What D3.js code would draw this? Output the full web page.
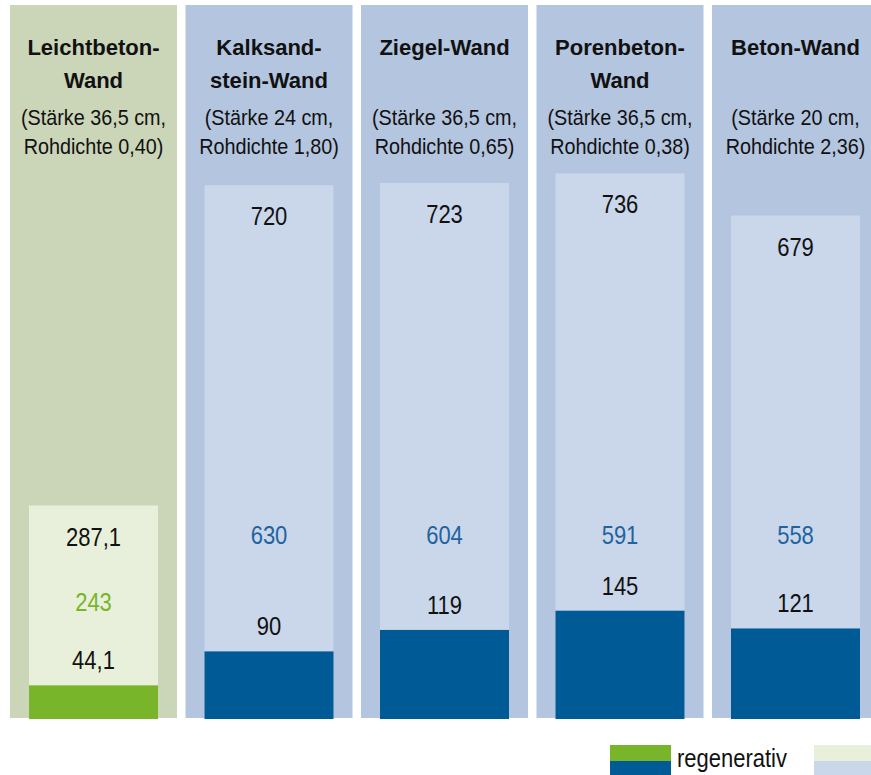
<!DOCTYPE html>
<html>
<head>
<meta charset="utf-8">
<script src="https://cdn.jsdelivr.net/npm/d3@7"></script>
<style>
  body { margin: 0; background: #fff; }
  svg { display: block; }
  text { font-family: "Liberation Sans", Arial, sans-serif; }
</style>
</head>
<body>
<svg id="chart" width="871" height="775"></svg>
<script>
// Wall types (header lines + subtitle lines)
const categories = ['Leichtbeton-Wand', 'Kalksandstein-Wand', 'Ziegel-Wand', 'Porenbeton-Wand', 'Beton-Wand'];
const headerLines = [['Leichtbeton-', 'Wand'], ['Kalksand-', 'stein-Wand'], ['Ziegel-Wand'], ['Porenbeton-', 'Wand'], ['Beton-Wand']];
const subLines = [
  ['(Stärke 36,5 cm,', 'Rohdichte 0,40)'],
  ['(Stärke 24 cm,', 'Rohdichte 1,80)'],
  ['(Stärke 36,5 cm,', 'Rohdichte 0,65)'],
  ['(Stärke 36,5 cm,', 'Rohdichte 0,38)'],
  ['(Stärke 20 cm,', 'Rohdichte 2,36)']
];

// values
const totals = [287.1, 720, 723, 736, 679];
const regenerative = [44.1, 90, 119, 145, 121];
const nonRegenerative = [243, 630, 604, 591, 558];
const legendLabel = 'regenerativ';

const colors = {
  greenPanel: '#cbd5b8', greenLight: '#e8f0db', green: '#78b52a',
  bluePanel: '#b3c5df', blueLight: '#cad6e9', blue: '#005a96', blueText: '#1f64a0'
};

const svg = d3.select('#chart');
const de = d3.formatLocale({ decimal: ',', thousands: '.', grouping: [3], currency: ['', ' €'] });
const fmt = v => Number.isInteger(v) ? de.format('d')(v) : de.format('.1f')(v);

// narrow text: regular Liberation Sans squeezed horizontally
function narrow(sel, px, py, txt, size, sx, opts = {}) {
  return sel.append('text')
    .attr('transform', `translate(${px},${py}) scale(${sx},1)`)
    .attr('text-anchor', opts.anchor || 'middle')
    .style('font-size', size + 'px')
    .style('font-weight', opts.bold ? 'bold' : null)
    .attr('fill', opts.fill || '#111')
    .text(txt);
}

const bottom = 718;
const x = d3.scaleBand().domain(categories).range([10, 879]).paddingInner(0.0484).paddingOuter(0);
const y = d3.scaleLinear().domain([0, 800]).range([bottom, 126]);
const inset = 19;

const cols = categories.map((c, i) => ({
  c, i, total: totals[i], regen: regenerative[i], rest: nonRegenerative[i],
  head: headerLines[i], sub: subLines[i], eco: i === 0
}));

const col = svg.selectAll('.col').data(cols).enter().append('g').attr('class', 'col');

// background panel
col.append('rect')
  .attr('x', d => x(d.c)).attr('y', 5)
  .attr('width', x.bandwidth()).attr('height', bottom - 5)
  .attr('fill', d => d.eco ? colors.greenPanel : colors.bluePanel);

// total bar (light)
col.append('rect')
  .attr('x', d => x(d.c) + inset).attr('y', d => y(d.total))
  .attr('width', x.bandwidth() - 2 * inset).attr('height', d => bottom - y(d.total))
  .attr('fill', d => d.eco ? colors.greenLight : colors.blueLight);

// regenerative part (dark)
col.append('rect')
  .attr('x', d => x(d.c) + inset).attr('y', d => y(d.regen))
  .attr('width', x.bandwidth() - 2 * inset).attr('height', d => bottom + 1 - y(d.regen))
  .attr('fill', d => d.eco ? colors.green : colors.blue);

const cx = d => x(d.c) + x.bandwidth() / 2;

col.each(function(d) {
  const g = d3.select(this);
  // headers
  d.head.forEach((t, k) => narrow(g, cx(d), 55 + k * 33, t, 22.5, 0.98, { bold: true }));
  d.sub.forEach((t, k) => narrow(g, cx(d), 125 + k * 29, t, 22, 0.9));

  // value labels
  narrow(g, cx(d), y(d.total) + 40, fmt(d.total), 25, 0.88);
  narrow(g, cx(d), y(d.regen) - 16, fmt(d.regen), 25, 0.88);
  const midY = d.eco ? (y(d.total) + 40 + y(d.regen) - 16) / 2 + 4 : 544;
  narrow(g, cx(d), midY, fmt(d.rest), 25, 0.88, { fill: d.eco ? colors.green : colors.blueText });
});

// legend
const lg = svg.append('g');
lg.append('rect').attr('x', 610).attr('y', 745).attr('width', 61).attr('height', 16).attr('fill', colors.green);
lg.append('rect').attr('x', 610).attr('y', 761).attr('width', 61).attr('height', 14).attr('fill', colors.blue);
narrow(lg, 677, 767, legendLabel, 25, 0.88, { anchor: 'start' });
lg.append('rect').attr('x', 814).attr('y', 745).attr('width', 70).attr('height', 16).attr('fill', colors.greenLight);
lg.append('rect').attr('x', 814).attr('y', 761).attr('width', 70).attr('height', 14).attr('fill', colors.blueLight);
</script>
</body>
</html>
